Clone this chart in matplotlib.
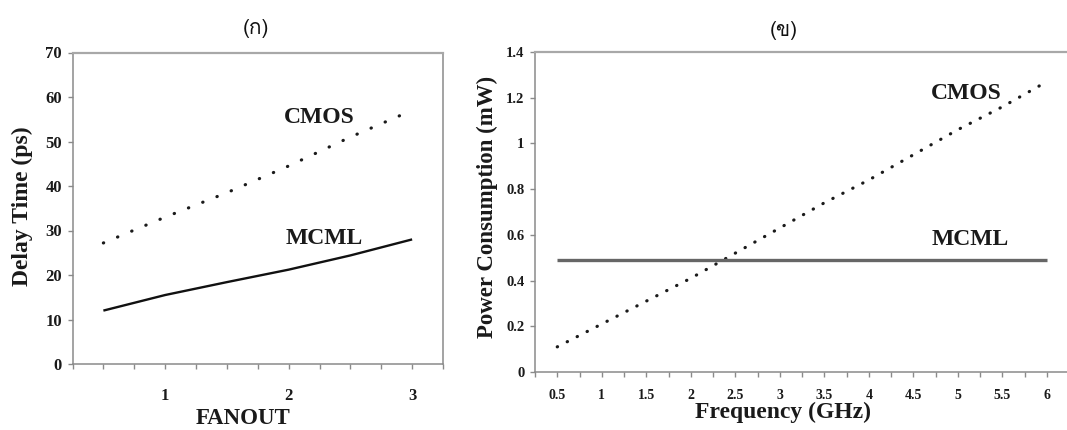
import matplotlib
matplotlib.use("Agg")
import matplotlib.pyplot as plt
from matplotlib.ticker import MultipleLocator, FixedLocator, FixedFormatter
from matplotlib import font_manager, ft2font

# ---------------- data ----------------
fanout = [0.5, 1.0, 1.5, 2.0, 2.5, 3.0]
delay_cmos = [27.2, 33.0, 38.5, 44.5, 51.0, 57.0]
delay_mcml = [12.0, 15.5, 18.4, 21.2, 24.4, 28.0]

freq = [0.5, 1.0, 1.5, 2.0, 2.5, 3.0, 3.5, 4.0, 4.5, 5.0, 5.5, 6.0]
power_cmos = [0.11, 0.21, 0.31, 0.41, 0.52, 0.63, 0.74, 0.84, 0.95, 1.06, 1.16, 1.27]
power_mcml = [0.49, 0.49, 0.49, 0.49, 0.49, 0.49, 0.49, 0.49, 0.49, 0.49, 0.49, 0.49]

delay_yticks = [0, 10, 20, 30, 40, 50, 60, 70]
delay_yticklabels = ["0", "10", "20", "30", "40", "50", "60", "70"]
fanout_ticks = [1, 2, 3]
fanout_ticklabels = ["1", "2", "3"]
power_yticks = [0, 0.2, 0.4, 0.6, 0.8, 1.0, 1.2, 1.4]
power_yticklabels = ["0", "0.2", "0.4", "0.6", "0.8", "1", "1.2", "1.4"]
freq_ticks = [0.5, 1, 1.5, 2, 2.5, 3, 3.5, 4, 4.5, 5, 5.5, 6]
freq_ticklabels = ["0.5", "1", "1.5", "2", "2.5", "3", "3.5", "4", "4.5", "5", "5.5", "6"]

title_left = "(ก)"
title_right = "(ข)"

# ---------------- fonts ----------------
SERIF = "Liberation Serif"


def find_thai_font():
    best = None
    for f in font_manager.fontManager.ttflist:
        try:
            cmap = ft2font.FT2Font(f.fname).get_charmap()
        except Exception:
            continue
        if 0x0E01 in cmap and 0x0E02 in cmap:
            name = f.name
            if "Sans" in name or "Loma" in name or "Garuda" in name:
                return name
            if best is None:
                best = name
    return best


thai = find_thai_font()
thai_family = [thai, "DejaVu Sans"] if thai else ["DejaVu Sans"]

W, H = 1067, 430
fig = plt.figure(figsize=(W / 100, H / 100), dpi=100)
fig.patch.set_facecolor("white")

spine_col = "#8a8a8a"
tick_col = "#1a1a1a"


def px_axes(x0, y_top, x1, y_bot):
    return fig.add_axes([x0 / W, (H - y_bot) / H, (x1 - x0) / W, (y_bot - y_top) / H])


def style(ax, ylab_size, xlab_size, xpad, ypad):
    for s in ax.spines.values():
        s.set_color(spine_col)
        s.set_linewidth(1.1)
    ax.spines["top"].set_color("#a8a8a8")
    ax.spines["top"].set_linewidth(1.6)
    ax.tick_params(axis="both", which="both", direction="out", color=spine_col,
                   width=1.0, labelcolor=tick_col)
    ax.tick_params(axis="both", which="major", length=3.5)
    ax.tick_params(axis="x", which="minor", length=3.5)
    ax.tick_params(axis="x", which="both", top=False, pad=xpad)
    ax.tick_params(axis="y", which="both", right=False, pad=ypad)
    for lab in ax.get_xticklabels():
        lab.set_fontfamily(SERIF)
        lab.set_fontweight("bold")
        lab.set_fontsize(xlab_size)
    for lab in ax.get_yticklabels():
        lab.set_fontfamily(SERIF)
        lab.set_fontweight("bold")
        lab.set_fontsize(ylab_size)


# ---------------- left panel ----------------
ax1 = px_axes(72.5, 52.5, 443, 364)
ax1.plot(fanout, delay_cmos, color="#1a1a1a", lw=2.3, linestyle=(0, (0.1, 4.7)),
         dash_capstyle="round")
ax1.plot(fanout, delay_mcml, color="#111111", lw=1.7, solid_capstyle="butt",
         solid_joinstyle="round")
ax1.set_xlim(0.25, 3.25)
ax1.set_ylim(0, 70)
ax1.yaxis.set_major_locator(FixedLocator(delay_yticks))
ax1.yaxis.set_major_formatter(FixedFormatter(delay_yticklabels))
ax1.xaxis.set_major_locator(FixedLocator(fanout_ticks))
ax1.xaxis.set_major_formatter(FixedFormatter(fanout_ticklabels))
ax1.xaxis.set_minor_locator(MultipleLocator(0.25))
style(ax1, 12, 12, 14, 4)

ax1.text(2.25, 55.3, "CMOS", family=SERIF, weight="bold", fontsize=17,
         ha="center", va="center", color="#1a1a1a")
ax1.text(2.29, 28.3, "MCML", family=SERIF, weight="bold", fontsize=17,
         ha="center", va="center", color="#1a1a1a")

ax1.set_ylabel("Delay Time (ps)", family=SERIF, weight="bold", fontsize=17,
               ha="center", va="center", color="#1a1a1a")
ax1.yaxis.set_label_coords((22 - 72.5) / (443 - 72.5), (364 - 206) / (364 - 52.5))
ax1.set_xlabel("FANOUT", family=SERIF, weight="bold", fontsize=16.5,
               ha="center", va="center", color="#1a1a1a")
ax1.xaxis.set_label_coords((243 - 72.5) / (443 - 72.5), (364 - 419) / (364 - 52.5))

# ---------------- right panel ----------------
ax2 = px_axes(535, 52, 1069, 372)
ax2.plot(freq, power_cmos, color="#1a1a1a", lw=2.3, linestyle=(0, (0.1, 3.4)),
         dash_capstyle="round")
ax2.plot(freq, power_mcml, color="#666666", lw=2.4, solid_capstyle="butt")
ax2.set_xlim(0.25, 6.25)
ax2.set_ylim(0, 1.4)
ax2.yaxis.set_major_locator(FixedLocator(power_yticks))
ax2.yaxis.set_major_formatter(FixedFormatter(power_yticklabels))
ax2.xaxis.set_major_locator(FixedLocator(freq_ticks))
ax2.xaxis.set_major_formatter(FixedFormatter(freq_ticklabels))
ax2.xaxis.set_minor_locator(MultipleLocator(0.25))
style(ax2, 10.5, 10, 9, 4)

ax2.text(5.1, 1.22, "CMOS", family=SERIF, weight="bold", fontsize=17,
         ha="center", va="center", color="#1a1a1a")
ax2.text(5.14, 0.578, "MCML", family=SERIF, weight="bold", fontsize=17,
         ha="center", va="center", color="#1a1a1a")

ax2.set_ylabel("Power Consumption (mW)", family=SERIF, weight="bold", fontsize=16.5,
               ha="center", va="center", color="#1a1a1a")
ax2.yaxis.set_label_coords((487 - 535) / (1069 - 535), (372 - 207) / (372 - 52))
ax2.set_xlabel("Frequency (GHz)", family=SERIF, weight="bold", fontsize=17,
               ha="center", va="center", color="#1a1a1a")
ax2.xaxis.set_label_coords((783 - 535) / (1069 - 535), (372 - 412) / (372 - 52))

# ---------------- titles ----------------
fig.text(256 / W, 1 - 29 / H, title_left, family=thai_family, fontsize=15,
         ha="center", va="center", color="#111111")
fig.text(784 / W, 1 - 30 / H, title_right, family=thai_family, fontsize=15,
         ha="center", va="center", color="#111111")

fig.savefig("out.png", dpi=100, facecolor="white")
